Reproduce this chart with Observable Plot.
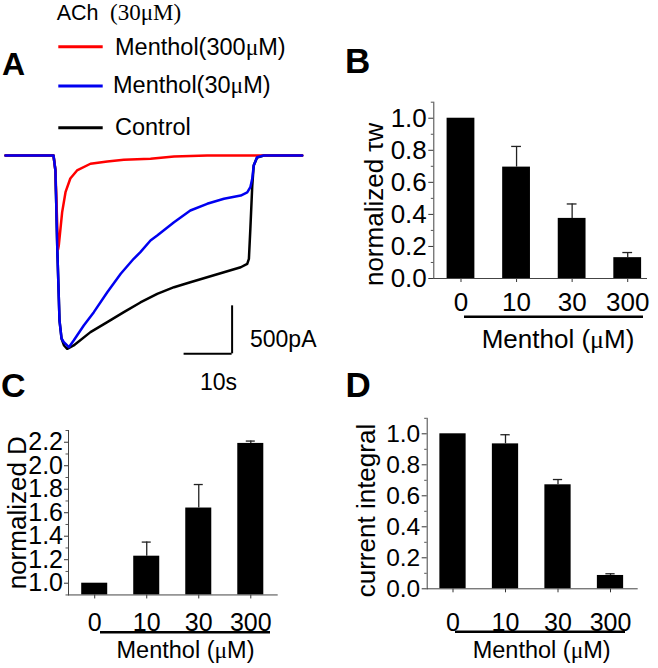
<!DOCTYPE html>
<html><head><meta charset="utf-8">
<script src="https://cdn.jsdelivr.net/npm/d3@7"></script>
<script src="https://cdn.jsdelivr.net/npm/@observablehq/plot@0.6"></script>
<style>
html,body{margin:0;padding:0;background:#fff;}
#fig{position:relative;width:658px;height:668px;overflow:hidden;font-family:"Liberation Sans",Arial,sans-serif;}
#fig .panel{position:absolute;}
#overlay{position:absolute;left:0;top:0;}
</style></head><body><div id="fig"></div>
<script>
// ---------- Panel A: current traces (time in s, current in pA) ----------
const controlTime = [0, 10, 10.4, 10.8, 11.25, 11.67, 12.2, 12.85, 14.2, 17.7, 21.2, 24.65, 28.1, 31.6, 35.1, 38.5, 42.0, 45.5, 49.0, 50.35, 50.7, 51.0, 51.4, 51.7, 52.4, 53.8, 61.8];
const controlCurrent = [0, 0, -156, -990, -1719, -1906, -1979, -2014, -1979, -1840, -1736, -1632, -1531, -1441, -1372, -1320, -1268, -1216, -1164, -1128, -1076, -764, -313, -104, -21, 0, 0];
const menthol30Time = [0, 10, 10.4, 10.8, 11.25, 11.67, 12.15, 13.2, 14.2, 16.3, 18.4, 21.2, 24.0, 26.7, 28.1, 30.2, 31.6, 35.1, 38.5, 42.0, 45.5, 49.0, 50.35, 51.0, 51.4, 51.7, 52.4, 53.8, 61.8];
const menthol30Current = [0, 0, -156, -990, -1719, -1906, -1945, -1997, -1927, -1771, -1632, -1424, -1232, -1076, -1007, -885, -833, -695, -573, -503, -451, -417, -385, -330, -240, -104, -18, 0, 0];
const menthol300Time = [0, 10, 10.4, 10.94, 11.1, 11.46, 11.8, 12.5, 13.5, 14.9, 17.7, 21.2, 24.65, 30.2, 35.1, 42.0, 61.8];
const menthol300Current = [0, 0, -156, -979, -937, -760, -590, -382, -240, -156, -86, -62, -45, -34, -10, 0, 0];
const scaleBarSeconds = 10;
const scaleBarPicoamps = 500;

// ---------- Panels B, C, D ----------
const concentrations = ["0", "10", "30", "300"];
const tauW = [1.0, 0.695, 0.375, 0.13];
const tauWErr = [0, 0.129, 0.09, 0.032];
const normD = [1.0, 1.23, 1.64, 2.19];
const normDErr = [0, 0.12, 0.20, 0.02];
const currentIntegral = [1.0, 0.935, 0.671, 0.086];
const currentIntegralErr = [0, 0.059, 0.034, 0.011];
const ticksB = [0, 0.2, 0.4, 0.6, 0.8, 1.0];
const ticksC = [1.0, 1.2, 1.4, 1.6, 1.8, 2.0, 2.2];
const ticksD = [0, 0.2, 0.4, 0.6, 0.8, 1.0];
const minorB = [0.1, 0.3, 0.5, 0.7, 0.9, 1.1];
const minorC = [0.9, 1.1, 1.3, 1.5, 1.7, 1.9, 2.1, 2.3];
const minorD = [0.1, 0.3, 0.5, 0.7, 0.9, 1.1];

const fig = document.getElementById("fig");
const FONT = '"Liberation Sans", Arial, sans-serif';

function place(el, left, top) {
  el.classList.add("panel");
  el.style.left = left + "px";
  el.style.top = top + "px";
  fig.appendChild(el);
}

// Panel A
const rowsOf = (T, I) => T.map((t, k) => ({t, i: I[k]}));
const barEndT = 47.2, barBottomI = -2066;
const traces = Plot.plot({
  width: 330, height: 260, margin: 0,
  style: {background: "transparent", overflow: "visible", fontFamily: FONT},
  x: {domain: [0, 61.8], range: [5, 301.7]},
  y: {domain: [0, -2000], range: [15, 207]},
  axis: null,
  marks: [
    Plot.line(rowsOf(controlTime, controlCurrent), {x: "t", y: "i", stroke: "#000", strokeWidth: 2.5, strokeLinejoin: "round"}),
    Plot.line(rowsOf(menthol300Time, menthol300Current), {x: "t", y: "i", stroke: "#ff0000", strokeWidth: 2.5, strokeLinejoin: "round"}),
    Plot.line(rowsOf(menthol30Time, menthol30Current), {x: "t", y: "i", stroke: "#0000f0", strokeWidth: 2.5, strokeLinejoin: "round"}),
    Plot.ruleX([barEndT], {y1: () => barBottomI, y2: () => barBottomI + scaleBarPicoamps, stroke: "#000", strokeWidth: 2}),
    Plot.ruleY([barBottomI], {x1: () => barEndT - scaleBarSeconds, x2: () => barEndT, stroke: "#000", strokeWidth: 2})
  ]
});
place(traces, 0, 140);

function barPanel(o) {
  const rows = concentrations.map((c, k) => ({c, v: o.values[k], e: o.errs[k]}));
  const withErr = rows.filter(d => d.e > 0);
  const base = o.yDomain[0];
  return Plot.plot({
    width: o.width, height: o.height,
    marginLeft: o.ml, marginTop: o.mt, marginRight: o.mr, marginBottom: o.mb,
    style: {background: "transparent", overflow: "visible", fontFamily: FONT},
    x: {domain: concentrations, range: o.xRange, paddingInner: 0.5, paddingOuter: 0.25, align: 0.5, round: false},
    y: {domain: o.yDomain},
    marks: [
      Plot.barY(rows, {x: "c", y1: () => base, y2: "v", fill: "#000"}),
      Plot.ruleX(withErr, {x: "c", y1: "v", y2: d => d.v + d.e, stroke: "#222", strokeWidth: 1.3}),
      Plot.tickY(withErr, {x: "c", y: d => d.v + d.e, stroke: "#222", strokeWidth: 1.3, insetLeft: o.capInset, insetRight: o.capInset}),
      Plot.axisY({ticks: o.minor, tickSize: 2.5, tickFormat: () => "", label: null, stroke: "#555"}),
      Plot.axisY({ticks: o.ticks, tickSize: o.yTickSize, tickPadding: o.yTickPad, tickFormat: d3.format(".1f"), fontSize: o.yFont, label: null, stroke: "#333"}),
      Plot.axisX({tickSize: 4, tickPadding: o.xPad, fontSize: o.xFont, label: null, stroke: "#333"}),
      Plot.frame({anchor: "left", stroke: "#444"}),
      Plot.frame({anchor: "bottom", stroke: "#444"}),
      Plot.text([o.ylabel], {frameAnchor: "left", textAnchor: "middle", rotate: -90, dx: o.ldx, dy: o.ldy, fontSize: o.lFont})
    ]
  });
}

place(barPanel({
  values: tauW, errs: tauWErr, yDomain: [0, 1.1], ticks: ticksB, minor: minorB,
  width: 328, height: 270, ml: 103.3, mt: 11.7, mr: 12, mb: 82,
  xRange: [102.7, 325], capInset: 9, yTickSize: 5, yTickPad: 2, yFont: 26, xFont: 26, xPad: 10,
  ylabel: "normalized τw", ldx: -59.6, ldy: 14, lFont: 26
}), 330, 90);

place(barPanel({
  values: normD, errs: normDErr, yDomain: [0.9, 2.3], ticks: ticksC, minor: minorC,
  width: 330, height: 258, ml: 68, mt: 20, mr: 53.3, mb: 73.55,
  xRange: [68.2, 276.3], capInset: 8.5, yTickSize: 4, yTickPad: 1.5, yFont: 25, xFont: 25, xPad: 14.5,
  ylabel: "normalized D", ldx: -50.6, ldy: 0, lFont: 26
}), 0, 410);

place(barPanel({
  values: currentIntegral, errs: currentIntegralErr, yDomain: [0, 1.1], ticks: ticksD, minor: minorD,
  width: 328, height: 268, ml: 96.7, mt: 17.8, mr: 21.3, mb: 79.7,
  xRange: [96.25, 306.25], capInset: 8.5, yTickSize: 5, yTickPad: 2, yFont: 24.5, xFont: 25, xPad: 20,
  ylabel: "current integral", ldx: -61, ldy: 7, lFont: 26
}), 330, 400);

// ---------- Overlay: panel letters, legend, scale bar labels, axis titles ----------
const NS = "http://www.w3.org/2000/svg";
const ov = document.createElementNS(NS, "svg");
ov.setAttribute("id", "overlay");
ov.setAttribute("width", 658);
ov.setAttribute("height", 668);
ov.style.fontFamily = FONT;
function txt(parts, x, y, size, opts = {}) {
  const t = document.createElementNS(NS, "text");
  t.setAttribute("x", x); t.setAttribute("y", y);
  t.setAttribute("font-size", size);
  if (opts.weight) t.setAttribute("font-weight", opts.weight);
  if (opts.anchor) t.setAttribute("text-anchor", opts.anchor);
  for (const p of parts) {
    const s = document.createElementNS(NS, "tspan");
    s.textContent = p.t;
    if (p.serif) s.setAttribute("font-family", '"Liberation Serif", "Times New Roman", serif');
    if (p.x != null) s.setAttribute("x", p.x);
    if (p.size) s.setAttribute("font-size", p.size);
    t.appendChild(s);
  }
  ov.appendChild(t);
}
function seg(x1, y1, x2, y2, color, w) {
  const l = document.createElementNS(NS, "line");
  l.setAttribute("x1", x1); l.setAttribute("y1", y1);
  l.setAttribute("x2", x2); l.setAttribute("y2", y2);
  l.setAttribute("stroke", color); l.setAttribute("stroke-width", w);
  ov.appendChild(l);
}
txt([{t: "A"}], 2, 75, 32, {weight: "bold"});
txt([{t: "B"}], 345, 73, 35, {weight: "bold"});
txt([{t: "C"}], 1, 397, 34, {weight: "bold"});
txt([{t: "D"}], 345.5, 396.7, 35, {weight: "bold"});

txt([{t: "ACh "}, {t: "(30μM)", serif: true, x: 110, size: 23}], 56.7, 20, 21.5);
seg(58.3, 46.7, 102.7, 46.7, "#ff0000", 3);
seg(58.3, 86, 102.7, 86, "#0000f0", 3);
seg(58.3, 127.7, 102.7, 127.7, "#000", 3);
txt([{t: "Menthol(300"}, {t: "μ", serif: true}, {t: "M)"}], 115, 55, 23.5);
txt([{t: "Menthol(30"}, {t: "μ", serif: true}, {t: "M)"}], 113, 92.5, 23.5);
txt([{t: "Control"}], 115, 134.5, 23.5);
txt([{t: "500pA"}], 250, 347, 23);
txt([{t: "10s"}], 200, 390, 23);

seg(464, 316.7, 643, 316.7, "#000", 2.5);
txt([{t: "Menthol ("}, {t: "μ", serif: true}, {t: "M)"}], 558, 348, 26, {anchor: "middle"});
seg(100, 632.3, 270, 632.3, "#000", 2.5);
txt([{t: "Menthol ("}, {t: "μ", serif: true}, {t: "M)"}], 185.5, 658, 23.5, {anchor: "middle"});
seg(455, 631.7, 625, 631.7, "#000", 2.5);
txt([{t: "Menthol ("}, {t: "μ", serif: true}, {t: "M)"}], 541.7, 658, 23.5, {anchor: "middle"});
fig.appendChild(ov);
</script></body></html>
